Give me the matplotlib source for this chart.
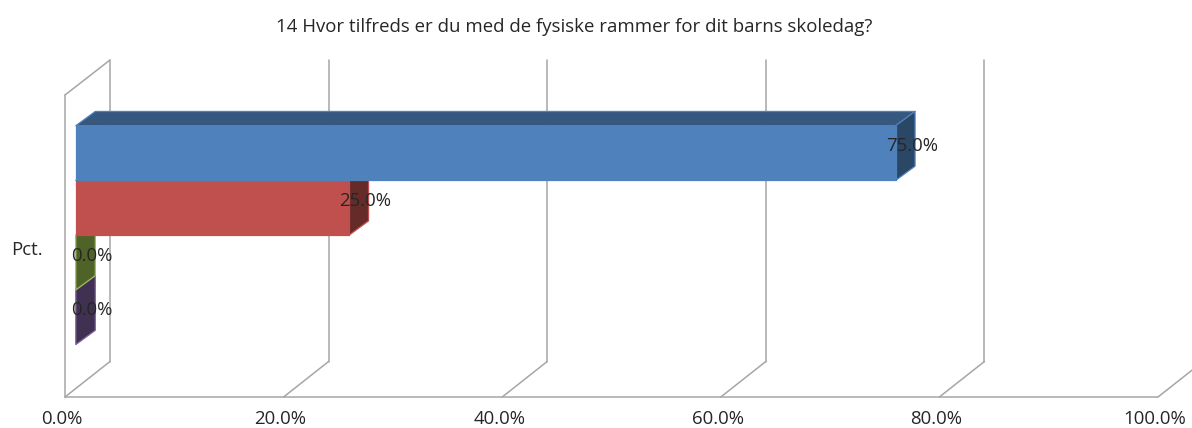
import matplotlib
matplotlib.use("Agg")
import matplotlib.pyplot as plt
from matplotlib.patches import Polygon
from matplotlib.transforms import Affine2D

TITLE = "14 Hvor tilfreds er du med de fysiske rammer for dit barns skoledag?"
CATEGORY = "Pct."
values = [75.0, 25.0, 0.0, 0.0]
x_ticks = [0, 20, 40, 60, 80, 100]
x_tick_labels = ["0.0%", "20.0%", "40.0%", "60.0%", "80.0%", "100.0%"]
front_colors = ["#4F81BD", "#C0504D", "#9BBB59", "#8064A2"]
top_colors = ["#36587F", "#7F3533", "#677D3B", "#56436D"]
side_colors = ["#2B4766", "#652B29", "#4F6228", "#403152"]

W, H = 1192, 428
plt.rcParams["font.family"] = ["Open Sans", "DejaVu Sans"]
TEXT = "#262626"
GRID = "#A6A6A6"
FS = 13.4

fig = plt.figure(figsize=(W / 100, H / 100), dpi=100, facecolor="white")
L, R, B, T = 65, 1158, 397, 95
ax = fig.add_axes([L / W, 1 - B / H, (R - L) / W, (B - T) / H])
ax.set_xlim(0, 100)
ax.set_ylim(4.33, -1.19)
for s in ax.spines.values():
    s.set_visible(False)
ax.set_facecolor("none")


def shifted(dx, dy):
    return ax.transData + Affine2D().translate(dx, dy)


# wall and floor lines
y_bot, y_top = ax.get_ylim()
inv = fig.transFigure.inverted()
line_kw = dict(color=GRID, lw=1.1, clip_on=False, zorder=1, solid_capstyle="round")
ax.plot([0, 100], [y_bot, y_bot], **line_kw)
ax.plot([0, 0], [y_bot, y_top], **line_kw)
for t in x_ticks:
    p0 = ax.transData.transform((t, y_bot))
    a = inv.transform(p0)
    b = inv.transform(p0 + [45, 35.5])
    ax.plot([a[0], b[0]], [a[1], b[1]], transform=fig.transFigure, **line_kw)
    if t < 100:
        c = inv.transform(ax.transData.transform((t, y_top)) + [45, 35])
        ax.plot([b[0], c[0]], [b[1], c[1]], transform=fig.transFigure, **line_kw)
p = ax.transData.transform((0, y_top))
a, b = inv.transform(p), inv.transform(p + [45, 35])
ax.plot([a[0], b[0]], [a[1], b[1]], transform=fig.transFigure, **line_kw)

# bars: front plane shifted into depth, 3D faces added in pixel offsets
OX, OY = 10.8, 7
DX, DY = 19.5, 14.3
front_tr = shifted(OX, OY)


def face(pts_pix, fc, ec, z):
    ax.add_patch(Polygon(pts_pix, closed=True, transform=None, fc=fc, ec=ec,
                         lw=0.9, zorder=z, clip_on=False, joinstyle="round"))


for i in reversed(range(len(values))):
    v = values[i]
    z = 5 + (len(values) - i)
    tl = front_tr.transform((0, i - 0.5))
    tr = front_tr.transform((v, i - 0.5))
    br = front_tr.transform((v, i + 0.5))
    bl = front_tr.transform((0, i + 0.5))
    d = [DX, DY]
    edge = front_colors[i]
    face([tl, tr, tr + d, tl + d], top_colors[i], edge, z)
    face([tr, br, br + d, tr + d], side_colors[i], edge, z)
    if v > 0:
        face([tl, tr, br, bl], front_colors[i], edge, z + 0.5)

# value labels
for i, v in enumerate(values):
    ax.text(v, i, f"{v:.1f}%", transform=shifted(OX + 16.5, OY + 7),
            ha="center", va="center", fontsize=FS, color=TEXT, zorder=20, clip_on=False)

ax.set_xticks(x_ticks, x_tick_labels, fontsize=FS, color=TEXT)
ax.set_yticks([1.6], [CATEGORY], fontsize=FS, color=TEXT)
ax.tick_params(axis="x", length=0, pad=9.5)
ax.tick_params(axis="y", length=0, pad=16)
for lab in ax.get_xticklabels():
    lab.set_transform(lab.get_transform() + Affine2D().translate(-3, 0))

fig.text(574 / W, 1 - 27 / H, TITLE, ha="center", va="center", fontsize=FS, color=TEXT)

fig.savefig("out.png", dpi=100, facecolor="white")
